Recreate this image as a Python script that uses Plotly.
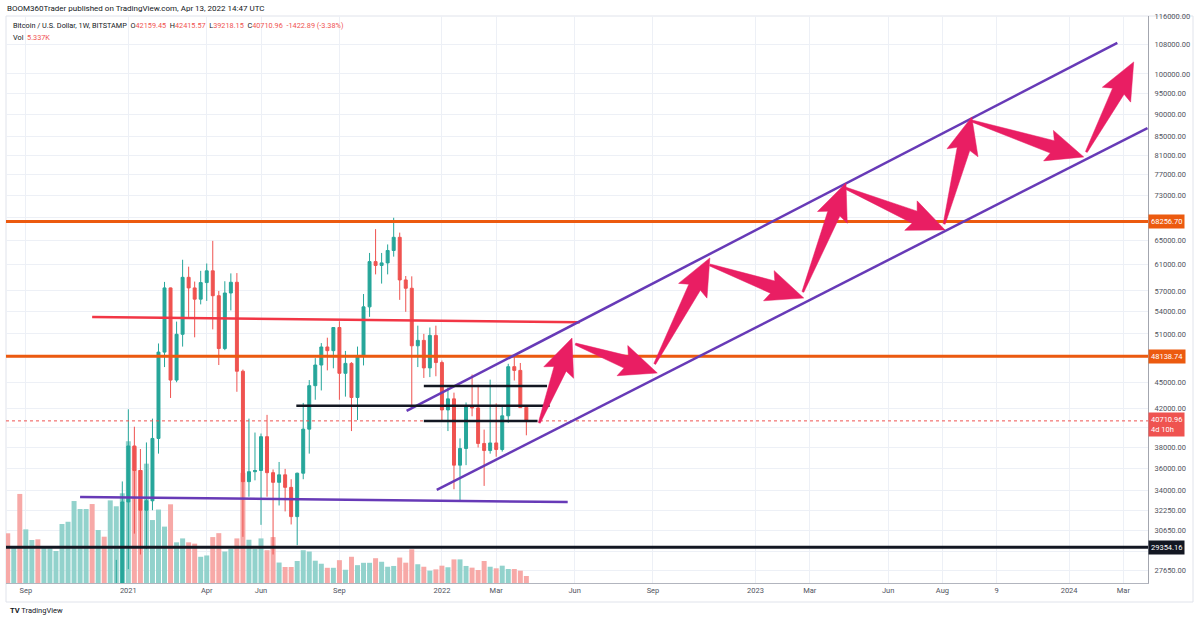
import numpy as np
import pandas as pd
import plotly.graph_objects as go

# ---------------- data (weekly BTCUSD, Bitstamp) ----------------
first_week = "2020-08-17"

week_open = [
    11900, 11650, 11700, 10250, 10330, 11080, 10730, 10780, 11370, 11500,
    13030, 13800, 15480, 16060, 18420, 18180, 19370, 19270, 23480, 26250,
    33000, 38150, 35800, 32300, 33100, 38900, 48650, 57450, 45250, 50950,
    59050, 57450, 55800, 58250, 60050, 56300, 49100, 56700, 58300, 46300,
    34780, 35690, 35800, 39080, 35600, 34720, 35400, 34270, 31770, 35550,
    39850, 44600, 47050, 49300, 48830, 51850, 46050, 47250, 43250, 48150,
    54700, 61500, 60900, 61300, 63300, 65500, 58650, 57400, 49450, 50150,
    46700, 50800,
    47350, 41880, 43100, 36300, 37900, 42300, 42100, 38400, 37700, 38450,
    37800, 41250, 46850, 46400, 42159.45]
week_high = [
    12480, 11800, 12090, 10580, 11180, 11100, 10950, 11490, 11720, 13350,
    14100, 15950, 16480, 18800, 19480, 19920, 19420, 24300, 28400, 34800,
    41950, 40100, 37850, 38500, 40950, 49750, 58350, 57500, 52650, 61800,
    60700, 58400, 60050, 61200, 64900, 57000, 58450, 59650, 59700, 46500,
    40950, 39500, 39400, 41350, 35900, 36600, 35950, 35000, 35600, 42650,
    45250, 47900, 49800, 50500, 51900, 52700, 48800, 47400, 49350, 56550,
    62900, 66900, 62900, 64300, 68900, 66300, 59250, 59200, 52100, 51000,
    51850, 52100,
    47600, 44400, 43800, 38900, 42700, 45900, 44700, 39800, 45300, 42600,
    42350, 47200, 48150, 47300, 42415.57]
week_low = [
    11370, 11130, 9880, 9870, 10200, 10140, 10370, 10530, 11230, 11420,
    12900, 13290, 14830, 15800, 16200, 18000, 17600, 19000, 21900, 25900,
    27730, 30400, 28800, 29200, 32300, 37400, 46800, 43200, 45000, 49350,
    53300, 50550, 55050, 55550, 51600, 47050, 48900, 54200, 43900, 30150,
    33450, 34900, 31100, 33450, 28800, 32700, 32200, 31130, 29500, 35000,
    37400, 43000, 44050, 46400, 46650, 43000, 43350, 39650, 40800, 47000,
    53300, 59500, 58100, 59500, 62300, 55700, 54000, 42250, 46800, 45500,
    45600, 45700,
    40700, 39650, 34100, 33100, 36300, 41200, 38000, 34400, 37400, 37100,
    37600, 40500, 45200, 42100, 39218.15]
week_close = [
    11650, 11700, 10250, 10330, 11080, 10730, 10780, 11370, 11500, 13030,
    13800, 15480, 16060, 18420, 18180, 19370, 19270, 23480, 26250, 33000,
    38150, 35800, 32300, 33100, 38900, 48650, 57450, 45250, 50950, 59050,
    57450, 55800, 58250, 60050, 56300, 49100, 56700, 58300, 46300, 34780,
    35690, 35800, 39080, 35600, 34720, 35400, 34270, 31770, 35550, 39850,
    44600, 47050, 49300, 48830, 51850, 46050, 47250, 43250, 48150, 54700,
    61500, 60900, 61300, 63300, 65500, 58650, 57400, 49450, 50150, 46700,
    50800, 47350,
    41880, 43100, 36300, 37900, 42300, 42100, 38400, 37700, 38450, 37800,
    41250, 46850, 46400, 42133.85, 40710.96]
week_volume_k = [
    37.9, 27.7, 67.9, 40.9, 32.8, 33.3, 27.7, 26.5, 24.4, 45.0,
    46.7, 62.5, 56.4, 56.4, 60.2, 40.4, 35.3, 63.0, 58.5, 68.4,
    108, 104, 86, 91, 48, 56, 43, 60, 31, 34,
    31, 30, 20, 21, 35, 38, 24, 26, 34, 84,
    33, 26, 34, 25, 35, 15.6, 12.2, 12.2, 16.8, 25,
    24, 17, 14.7, 11.6, 11.6, 17.4, 10.1, 20, 13.6, 15.4,
    15.4, 18.9, 16.2, 12.4, 13, 19.4, 15.5, 25.7, 14.3, 12.4,
    9.4, 10.4,
    13.2, 12, 18, 18, 13, 11.7, 9.9, 16.8, 12.4, 11.2,
    13.2, 10.7, 10.7, 9.4, 5.337]

# horizontal levels drawn by the author
orange_levels = [68256.70, 48138.74]
black_level = 29354.16

# trend lines (dates, prices)
red_line_dates = ["2020-11-23", "2022-06-12"]
red_line_prices = [53290, 52560]
purple_flat_dates = ["2020-11-09", "2022-05-29"]
purple_flat_prices = [33420, 32990]
channel_upper_dates = ["2021-11-23", "2024-02-26"]
channel_upper_prices = [41770, 108360]
channel_lower_dates = ["2021-12-28", "2024-04-01"]
channel_lower_prices = [34040, 86940]
black_seg_start = ["2021-07-18", "2021-12-13", "2021-12-13"]
black_seg_end = ["2022-05-08", "2022-05-05", "2022-04-24"]
black_seg_price = [42350, 44560, 40700]

# projected path arrows
arrow_tail_date = ["2022-04-26", "2022-06-07", "2022-09-07", "2022-11-10", "2023-02-26",
                   "2023-04-16", "2023-08-09", "2023-09-10", "2024-01-21"]
arrow_tail_price = [40500, 49680, 47180, 60970, 56850, 74430, 67800, 88540, 81700]
arrow_head_date = ["2022-06-03", "2022-09-10", "2022-11-10", "2023-02-27", "2023-04-17",
                   "2023-08-10", "2023-09-10", "2024-01-18", "2024-03-16"]
arrow_head_price = [50460, 46090, 62090, 55970, 75400, 66760, 89460, 80650, 103160]

# axis ticks
date_tick_dates = ["2020-09-07", "2021-01-04", "2021-04-05", "2021-06-07", "2021-09-06",
                   "2022-01-03", "2022-03-07", "2022-06-06", "2022-09-05", "2023-01-02",
                   "2023-03-06", "2023-06-05", "2023-08-07", "2023-10-09", "2024-01-01",
                   "2024-03-04"]
date_tick_text = ["Sep", "2021", "Apr", "Jun", "Sep", "2022", "Mar", "Jun", "Sep", "2023",
                  "Mar", "Jun", "Aug", "9", "2024", "Mar"]
price_ticks = [116000, 108000, 100000, 95000, 90000, 85000, 81000, 77000, 73000, 69000,
               65000, 61000, 57000, 54000, 51000, 48000, 45000, 42000, 40000, 38000,
               36000, 34000, 32250, 30650, 29000, 27650]
# ticks whose labels sit under a price box (grid line kept, label hidden)
price_ticks_covered = [69000, 48000, 40000, 29000]

# ---------------- layout config ----------------
x_range_dates = ["2020-08-15 00:00", "2024-04-01 14:00"]
price_range = [26750, 116200]
volume_range_k = [0, 432.3]

FIG_W, FIG_H = 1200, 621
M_L, M_R, M_T, M_B = 6, 52, 16, 38
PLOT_W = FIG_W - M_L - M_R
PLOT_H = FIG_H - M_T - M_B

UP, DOWN = "#26a69a", "#ef5350"
UP_VOL, DOWN_VOL = "#92d2cc", "#f7a9a7"
ORANGE = "#ec5a0f"
PURPLE = "#673ab7"
PINK = "#e91e63"
RED_LINE = "#f23645"
BLACK = "#131722"
GRID = "#edf0f6"
TEXT = "#50535e"
FONT = "Roboto"

dates = pd.date_range(first_week, periods=len(week_close), freq="7D")
is_up = [c >= o for o, c in zip(week_open, week_close)]
vol_colors = [UP_VOL if u else DOWN_VOL for u in is_up]

X0 = pd.Timestamp(x_range_dates[0]).value
X1 = pd.Timestamp(x_range_dates[1]).value
Y0, Y1 = np.log10(price_range[0]), np.log10(price_range[1])


def to_px(d, p):
    xp = (pd.Timestamp(d).value - X0) / (X1 - X0) * PLOT_W
    yp = (np.log10(p) - Y0) / (Y1 - Y0) * PLOT_H
    return xp, yp


def from_px(xp, yp):
    d = pd.Timestamp(int(X0 + xp / PLOT_W * (X1 - X0)))
    p = 10 ** (Y0 + yp / PLOT_H * (Y1 - Y0))
    return d, p


def arrow_polygon(td, tp, hd, hp, head_len=33, head_half=16, shaft_half=6.5,
                  tail_half=1.0, sweep=4):
    tx, ty = to_px(td, tp)
    hx, hy = to_px(hd, hp)
    dx, dy = hx - tx, hy - ty
    ln = np.hypot(dx, dy)
    ux, uy = dx / ln, dy / ln
    nx, ny = -uy, ux
    bx, by = hx - ux * head_len, hy - uy * head_len
    cx, cy = bx - ux * sweep, by - uy * sweep
    pts = [
        (tx + nx * tail_half, ty + ny * tail_half),
        (bx + nx * shaft_half, by + ny * shaft_half),
        (cx + nx * head_half, cy + ny * head_half),
        (hx, hy),
        (cx - nx * head_half, cy - ny * head_half),
        (bx - nx * shaft_half, by - ny * shaft_half),
        (tx - nx * tail_half, ty - ny * tail_half),
    ]
    pts.append(pts[0])
    xs, ys = zip(*[from_px(a, b) for a, b in pts])
    return list(xs), list(ys)


def paper(xpx, ypx):
    return (xpx - M_L) / PLOT_W, (FIG_H - M_B - ypx) / PLOT_H


fig = go.Figure()

# volume (base axis)
fig.add_trace(go.Bar(
    x=dates, y=week_volume_k, marker_color=vol_colors, marker_line_width=0,
    width=5.8 * 86400000, xaxis="x", yaxis="y", hoverinfo="skip"))

# candles (overlay price axis)
fig.add_trace(go.Candlestick(
    x=dates, open=week_open, high=week_high, low=week_low, close=week_close,
    increasing=dict(line=dict(color=UP, width=1), fillcolor=UP),
    decreasing=dict(line=dict(color=DOWN, width=1), fillcolor=DOWN),
    whiskerwidth=0, xaxis="x", yaxis="y2", hoverinfo="skip"))


def line(xs, ys, color, width, dash="solid"):
    fig.add_trace(go.Scatter(x=xs, y=ys, mode="lines", xaxis="x", yaxis="y2",
                             line=dict(color=color, width=width, dash=dash),
                             hoverinfo="skip"))


# last price dotted line
line(x_range_dates, [week_close[-1]] * 2, DOWN, 1, "dot")
# horizontal levels
for lv in orange_levels:
    line(x_range_dates, [lv, lv], ORANGE, 3)
line(x_range_dates, [black_level] * 2, BLACK, 3)
# trend lines
line(red_line_dates, red_line_prices, RED_LINE, 2.5)
line(purple_flat_dates, purple_flat_prices, PURPLE, 2.5)
line(channel_upper_dates, channel_upper_prices, PURPLE, 2.5)
line(channel_lower_dates, channel_lower_prices, PURPLE, 2.5)
for s, e, p in zip(black_seg_start, black_seg_end, black_seg_price):
    line([s, e], [p, p], BLACK, 2.5)

# arrows
for td, tp, hd, hp in zip(arrow_tail_date, arrow_tail_price, arrow_head_date, arrow_head_price):
    xs, ys = arrow_polygon(td, tp, hd, hp)
    fig.add_trace(go.Scatter(x=xs, y=ys, mode="lines", fill="toself", fillcolor=PINK,
                             line=dict(color=PINK, width=0.5), xaxis="x", yaxis="y2",
                             hoverinfo="skip"))

annotations = []


def price_box(price, text, bg, yshift=0):
    annotations.append(dict(
        x=1, xref="paper", xanchor="left", y=np.log10(price), yref="y2", yanchor="middle",
        text=text, showarrow=False, bgcolor=bg, borderpad=2, yshift=yshift, align="left",
        font=dict(family=FONT, size=7.5, color="white")))


for lv in orange_levels:
    price_box(lv, f"{lv:.2f}", ORANGE)
price_box(black_level, f"{black_level:.2f}", BLACK)
price_box(week_close[-1], f"{week_close[-1]:.2f}<br>4d 10h", DOWN, yshift=-4)

# header texts
chg = week_close[-1] - week_close[-2]
pct = chg / week_close[-2] * 100
red = lambda s: f"<span style='color:{DOWN}'>{s}</span>"
legend_txt = ("Bitcoin / U.S. Dollar, 1W, BITSTAMP  "
              f"O{red(f'{week_open[-1]:.2f}')}  H{red(f'{week_high[-1]:.2f}')}  "
              f"L{red(f'{week_low[-1]:.2f}')}  C{red(f'{week_close[-1]:.2f}')}  "
              f"{red(f'{chg:.2f} ({pct:.2f}%)')}")
vol_txt = f"Vol  {red(f'{week_volume_k[-1]:.3f}K')}"

for (xp, yp), txt, size in [
    ((5, 8), "BOOM360Trader published on TradingView.com, Apr 13, 2022 14:47 UTC", 8),
    ((11, 25), legend_txt, 7.3),
    ((11, 37), vol_txt, 7.3),
    ((8, 610), "<b>TV</b> TradingView", 7.5),
]:
    px_, py_ = paper(xp, yp)
    annotations.append(dict(x=px_, y=py_, xref="paper", yref="paper", xanchor="left",
                            yanchor="middle", text=txt, showarrow=False,
                            font=dict(family=FONT, size=size, color=BLACK)))

fx0, fy0 = paper(6, 602)
fx1, fy1 = paper(1193, 16)
shapes = [dict(type="rect", xref="paper", yref="paper", x0=fx0, y0=fy0, x1=fx1, y1=fy1,
               line=dict(color="#e0e3eb", width=1), layer="below")]

price_tick_text = ["" if v in price_ticks_covered else f"{v:.2f}" for v in price_ticks]

fig.update_layout(
    width=FIG_W, height=FIG_H,
    margin=dict(l=M_L, r=M_R, t=M_T, b=M_B),
    paper_bgcolor="white", plot_bgcolor="white",
    showlegend=False, hovermode=False,
    font=dict(family=FONT, size=7.5, color=TEXT),
    xaxis=dict(type="date", range=x_range_dates, tickvals=date_tick_dates,
               ticktext=date_tick_text, showgrid=True, gridcolor=GRID, gridwidth=1,
               showline=True, linecolor="#b2b5be", linewidth=1, ticks="",
               zeroline=False, rangeslider=dict(visible=False), anchor="y",
               tickfont=dict(family=FONT, size=7.5, color=TEXT)),
    yaxis=dict(range=volume_range_k, visible=False, showgrid=False, zeroline=False,
               fixedrange=True),
    yaxis2=dict(type="log", range=[Y0, Y1], overlaying="y", side="right", anchor="x",
                tickvals=price_ticks, ticktext=price_tick_text,
                showgrid=True, gridcolor=GRID, gridwidth=1, zeroline=False,
                showline=True, linecolor="#a3a6af", linewidth=1, ticks="",
                ticklabelstandoff=4,
                tickfont=dict(family=FONT, size=7.5, color=TEXT)),
    annotations=annotations,
    shapes=shapes,
)

fig.write_html("out.html")
